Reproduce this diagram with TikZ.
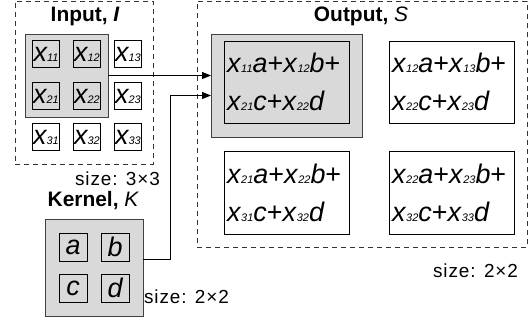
\documentclass[tikz,border=0pt]{standalone}
\usepackage{fontspec}
\setmainfont{Liberation Sans}
\usetikzlibrary{arrows.meta, positioning}

\newcommand\xs[1]{\textit{x}{\fontsize{11}{11}\selectfont\textit{#1}}}

\begin{document}
\begin{tikzpicture}[x=1bp, y=-1bp, every node/.style={inner sep=0pt, outer sep=0pt},
    cell/.style={draw, line width=0.8bp, minimum size=27bp, font=\fontsize{27}{27}\selectfont\itshape},
    grayblock/.style={draw=black!75, fill=black!15, line width=1bp},
    outbox/.style={draw, line width=0.8bp, minimum width=125bp, minimum height=82bp, text width=119bp, align=left, font=\fontsize{27}{38}\selectfont},
    dashbox/.style={draw=black!80, dash pattern=on 5bp off 4bp, line width=0.8bp},
    title/.style={font=\fontsize{21}{21}\selectfont\bfseries},
    sizelbl/.style={font=\fontsize{19}{19}\selectfont\addfontfeature{LetterSpace=5}},
    arr/.style={-{Triangle[length=9bp,width=7bp]}, line width=0.8bp}]
    \useasboundingbox (0,0) rectangle (531,322);

    % frames
    \node[dashbox, minimum width=138bp, minimum height=163bp] (inframe) at (84,82.5) {};
    \node[dashbox, minimum width=330bp, minimum height=246bp] (outframe) at (362,124) {};
    \node[title, anchor=base] (intitle) at (85,21) {Input, \itshape I};
    \node[title, anchor=base] (outtitle) at (361,21) {Output, \mdseries\itshape S};
    \node[title, anchor=base] (kertitle) at (93,206) {Kernel, \mdseries\itshape K};

    % input
    \node[grayblock, minimum size=83bp] (ingray) at (66.5,75.5) {};
    \foreach \r/\y in {1/54,2/96,3/137}
        \foreach \c/\x in {1/46,2/87,3/128}
            \node[cell] (x\r\c) at (\x,\y) {\xs{\r\c}};
    \node[sizelbl, anchor=base east] (insize) at (160,185) {size: 3×3};

    % kernel
    \node[grayblock, minimum width=98bp, minimum height=97bp] (kergray) at (94,267.5) {};
    \node[cell, minimum size=28bp] (ka) at (73,247) {a};
    \node[cell, minimum size=28bp] (kb) at (115,247) {b};
    \node[cell, minimum size=28bp] (kc) at (73,288) {c};
    \node[cell, minimum size=28bp] (kd) at (115,288) {d};
    \node[sizelbl, anchor=base west] (kersize) at (144,303) {size: 2×2};

    % output
    \node[grayblock, minimum width=151bp, minimum height=103bp] (outgray) at (286.5,85.5) {};
    \node[outbox] (o11) at (286.5,82) {\xs{11}\textit{a}+\xs{12}\textit{b}+\\\xs{21}\textit{c}+\xs{22}\textit{d}};
    \node[outbox] (o12) at (451.5,82) {\xs{12}\textit{a}+\xs{13}\textit{b}+\\\xs{22}\textit{c}+\xs{23}\textit{d}};
    \node[outbox, minimum height=83bp] (o21) at (286.5,192.5) {\xs{21}\textit{a}+\xs{22}\textit{b}+\\\xs{31}\textit{c}+\xs{32}\textit{d}};
    \node[outbox, minimum height=83bp] (o22) at (451.5,192.5) {\xs{22}\textit{a}+\xs{23}\textit{b}+\\\xs{32}\textit{c}+\xs{33}\textit{d}};
    \node[sizelbl, anchor=base east] (outsize) at (518,277) {size: 2×2};

    % connectors
    \draw[arr] (ingray.east) -- (ingray.east -| outgray.west);
    \draw[arr] ([yshift=8.5bp]kergray.east) -| ([xshift=-41bp,yshift=-10bp]outgray.west) -- ([yshift=-10bp]outgray.west);
\end{tikzpicture}
\end{document}
